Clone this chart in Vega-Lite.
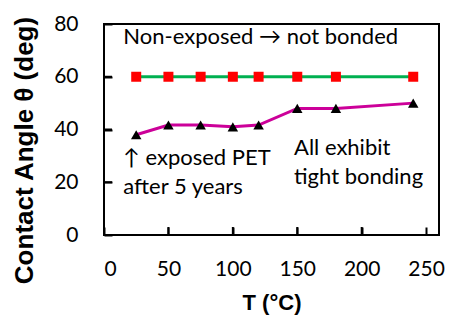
{
  "$schema": "https://vega.github.io/schema/vega-lite/v6.json",
  "autosize": "none",
  "width": 335,
  "height": 211,
  "padding": {"left": 104, "top": 24, "right": 25, "bottom": 87},
  "background": "white",
  "config": {
    "view": {"stroke": "black", "strokeWidth": 2},
    "axis": {"grid": false, "labelColor": "black", "titleColor": "black", "labelFont": "Lato", "labelFontSize": 21, "titleFont": "Liberation Sans", "titleFontWeight": "bold"}
  },
  "datasets": {
    "pts": [
      {"series": "non", "T": 25, "theta": 60},
      {"series": "non", "T": 50, "theta": 60},
      {"series": "non", "T": 75, "theta": 60},
      {"series": "non", "T": 100, "theta": 60},
      {"series": "non", "T": 120, "theta": 60},
      {"series": "non", "T": 150, "theta": 60},
      {"series": "non", "T": 180, "theta": 60},
      {"series": "non", "T": 240, "theta": 60},
      {"series": "exp", "T": 25, "theta": 38},
      {"series": "exp", "T": 50, "theta": 41.7},
      {"series": "exp", "T": 75, "theta": 41.7},
      {"series": "exp", "T": 100, "theta": 41},
      {"series": "exp", "T": 120, "theta": 41.7},
      {"series": "exp", "T": 150, "theta": 48},
      {"series": "exp", "T": 180, "theta": 48},
      {"series": "exp", "T": 240, "theta": 50}
    ],
    "xticks": [{"v": 50}, {"v": 100}, {"v": 150}, {"v": 200}],
    "yticks": [{"v": 20}, {"v": 40}, {"v": 60}],
    "notes": [
      {"label": "Non-exposed → not bonded", "x": 15, "y": 75},
      {"label": "↑ exposed PET", "x": 15, "y": 29.2},
      {"label": "after 5 years", "x": 15, "y": 18.2},
      {"label": "All exhibit", "x": 147.5, "y": 33},
      {"label": "tight bonding", "x": 147.5, "y": 22}
    ]
  },
  "layer": [
    {
      "data": {"name": "pts"},
      "mark": {"type": "line", "strokeWidth": 3},
      "encoding": {
        "x": {"field": "T", "type": "quantitative", "scale": {"domain": [0, 250]}, "axis": {"values": [0, 50, 100, 150, 200, 250], "domain": false, "offset": -8, "ticks": true, "tickColor": "black", "tickWidth": 2, "tickSize": 8, "labelPadding": 23, "title": "T (°C)", "titleFontSize": 22, "titleY": 75, "titleBaseline": "middle"}},
        "y": {"field": "theta", "type": "quantitative", "scale": {"domain": [0, 80]}, "axis": {"values": [0, 20, 40, 60, 80], "domain": false, "offset": -8, "ticks": true, "tickColor": "black", "tickWidth": 2, "tickSize": 8, "labelPadding": 26, "title": "Contact Angle θ (deg)", "titleFontSize": 26, "titleX": -88, "titleY": 126, "titleBaseline": "middle"}},
        "color": {"field": "series", "type": "nominal", "scale": {"domain": ["non", "exp"], "range": ["#00B050", "#CC0099"]}, "legend": null},
        "detail": {"field": "series"}
      }
    },
    {
      "data": {"name": "xticks"},
      "mark": {"type": "tick", "orient": "vertical", "color": "black", "opacity": 1, "size": 8, "thickness": 2, "yOffset": -4},
      "encoding": {
        "x": {"field": "v", "type": "quantitative"},
        "y": {"datum": 0, "type": "quantitative"}
      }
    },
    {
      "data": {"name": "yticks"},
      "mark": {"type": "tick", "orient": "horizontal", "color": "black", "opacity": 1, "size": 8, "thickness": 2, "xOffset": 4},
      "encoding": {
        "y": {"field": "v", "type": "quantitative"},
        "x": {"datum": 0, "type": "quantitative"}
      }
    },
    {
      "data": {"name": "pts"},
      "transform": [{"filter": "datum.series == 'non'"}],
      "mark": {"type": "square", "filled": true, "opacity": 1, "color": "#FF0000", "size": 100},
      "encoding": {
        "x": {"field": "T", "type": "quantitative"},
        "y": {"field": "theta", "type": "quantitative"}
      }
    },
    {
      "data": {"name": "pts"},
      "transform": [{"filter": "datum.series == 'exp'"}],
      "mark": {"type": "point", "shape": "triangle-up", "filled": true, "opacity": 1, "color": "black", "size": 110},
      "encoding": {
        "x": {"field": "T", "type": "quantitative"},
        "y": {"field": "theta", "type": "quantitative"}
      }
    },
    {
      "data": {"name": "notes"},
      "mark": {"type": "text", "align": "left", "baseline": "middle", "font": "Lato", "fontSize": 22, "color": "black"},
      "encoding": {
        "x": {"field": "x", "type": "quantitative"},
        "y": {"field": "y", "type": "quantitative"},
        "text": {"field": "label"}
      }
    }
  ]
}
